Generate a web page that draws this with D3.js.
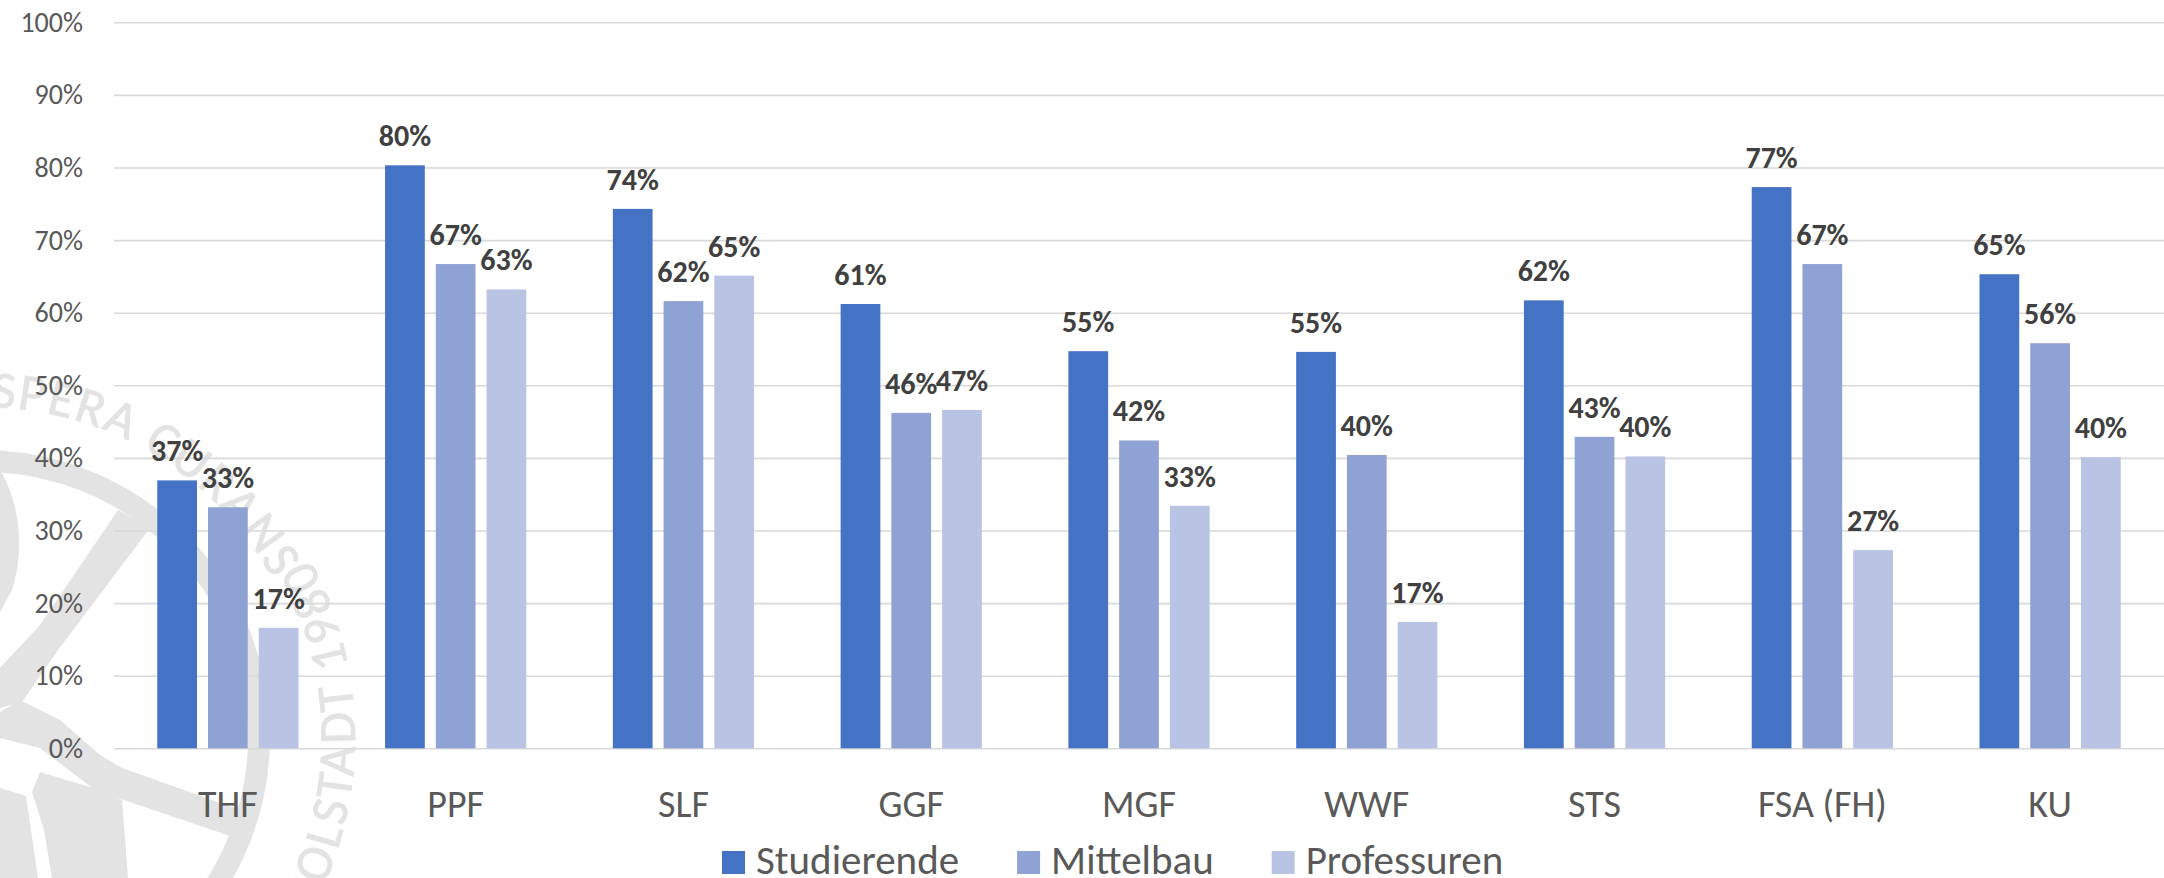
<!DOCTYPE html>
<html>
<head>
<meta charset="utf-8">
<script src="https://cdn.jsdelivr.net/npm/d3@7"></script>
<style>
  html, body { margin: 0; padding: 0; background: #fff; }
  #chart { width: 2164px; height: 878px; overflow: hidden; }
  text { font-family: Carlito, Calibri, Lato, sans-serif; }
</style>
</head>
<body>
<div id="chart"></div>
<script>
const categories = ["THF", "PPF", "SLF", "GGF", "MGF", "WWF", "STS", "FSA (FH)", "KU"];
const seriesNames = ["Studierende", "Mittelbau", "Professuren"];
const studierende = [36.9, 80.3, 74.3, 61.2, 54.7, 54.6, 61.7, 77.3, 65.3];
const mittelbau   = [33.2, 66.7, 61.6, 46.2, 42.4, 40.4, 42.9, 66.7, 55.8];
const professuren = [16.6, 63.2, 65.1, 46.6, 33.4, 17.4, 40.2, 27.3, 40.1];
const yTicks = [0, 10, 20, 30, 40, 50, 60, 70, 80, 90, 100];
const colors = ["#4472C4", "#8FA2D4", "#B9C3E3"];

const w = 2164, h = 878;
const plotLeft = 114, plotRight = 2164, plotTop = 22.3, plotBottom = 748.3;

const svg = d3.select("#chart")
    .append("svg")
        .attr("width", w)
        .attr("height", h)
        .attr("viewBox", [0, 0, w, h]);

// faint university seal in the background
const seal = svg.append("g").attr("class", "seal");
const cx = -17, cy = 737;
const grey = "#e3e3e3";
seal.append("circle")
    .attr("cx", cx).attr("cy", cy).attr("r", 276)
    .attr("fill", "none").attr("stroke", grey).attr("stroke-width", 22);
[
    "M118,510 L150,528 L58,650 L22,702 L0,708 L0,668 L40,625 Z",
    "M20,700 L60,720 L100,755 L122,768 L240,810 L236,838 L118,798 L95,790 L40,748 L0,738 L0,712 Z",
    "M40,772 L100,790 L122,800 L128,878 L52,878 L44,830 L32,792 Z",
    "M0,788 L26,796 L38,878 L0,878 Z",
    "M0,470 C18,500 26,545 12,590 L0,612 Z"
].forEach(d => seal.append("path").attr("fill", grey).attr("d", d));

function arcPath(r, a0, a1) {
    // a0 -> a1 in degrees clockwise from top; sweep follows the sign
    const p = a => [cx + r * Math.sin(a * Math.PI / 180), cy - r * Math.cos(a * Math.PI / 180)];
    const s = p(a0), e = p(a1);
    const large = Math.abs(a1 - a0) > 180 ? 1 : 0;
    const sweep = a1 > a0 ? 1 : 0;
    return "M" + s[0] + "," + s[1] + " A" + r + "," + r + " 0 " + large + " " + sweep + " " + e[0] + "," + e[1];
}
const defs = svg.append("defs");
defs.append("path").attr("id", "sealTop").attr("d", arcPath(330, -30, 170));
defs.append("path").attr("id", "sealBottom").attr("d", arcPath(372, 200, 0));

seal.append("text")
    .attr("font-size", 52)
    .attr("fill", grey)
    .attr("stroke", grey)
    .attr("stroke-width", 0.8)
  .append("textPath")
    .attr("href", "#sealTop")
    .attr("startOffset", (25.8 * Math.PI / 180 * 330))
    .attr("letter-spacing", 2)
    .text("ASPERA CURANS");

seal.append("text")
    .attr("font-size", 52)
    .attr("fill", grey)
    .attr("stroke", grey)
    .attr("stroke-width", 0.8)
    .attr("text-anchor", "end")
  .append("textPath")
    .attr("href", "#sealBottom")
    .attr("startOffset", ((200 - 61) * Math.PI / 180 * 372))
    .attr("letter-spacing", 3)
    .text("INGOLSTADT 1980");

const x0 = d3.scaleBand()
    .domain(categories)
    .range([plotLeft, plotRight]);
const x1 = d3.scaleBand()
    .domain(seriesNames)
    .range([0, x0.bandwidth()])
    .paddingInner(0.217)
    .paddingOuter(0.853);
const y = d3.scaleLinear()
    .domain([0, 100])
    .range([plotBottom, plotTop]);

const yAxis = d3.axisLeft(y)
    .tickValues(yTicks)
    .tickFormat(d => d + "%")
    .tickSize(-(plotRight - plotLeft))
    .tickPadding(31);

const gY = svg.append("g")
    .attr("transform", "translate(" + plotLeft + ",0)")
    .call(yAxis);
gY.select(".domain").remove();
gY.selectAll("line").attr("stroke", "#d9d9d9").attr("stroke-width", 1.6);
gY.selectAll("text")
    .attr("font-size", 28)
    .attr("fill", "#595959")
    .attr("font-family", "Carlito, Calibri, Lato, sans-serif");

const rows = categories.map((c, i) => ({
    cat: c,
    vals: [studierende[i], mittelbau[i], professuren[i]]
}));

const groups = svg.append("g").selectAll("g")
        .data(rows)
    .enter().append("g")
        .attr("transform", d => "translate(" + x0(d.cat) + ",0)");

groups.selectAll("rect")
        .data(d => d.vals.map((v, k) => ({ s: seriesNames[k], v: v, k: k })))
    .enter().append("rect")
        .attr("x", d => x1(d.s))
        .attr("y", d => y(d.v))
        .attr("width", x1.bandwidth())
        .attr("height", d => y(0) - y(d.v))
        .attr("fill", d => colors[d.k]);

groups.selectAll("text.lbl")
        .data(d => d.vals.map((v, k) => ({ s: seriesNames[k], v: v, k: k })))
    .enter().append("text")
        .attr("class", "lbl")
        .attr("x", d => x1(d.s) + x1.bandwidth() / 2)
        .attr("y", d => y(d.v) - 19)
        .attr("text-anchor", "middle")
        .attr("font-size", 30)
        .attr("font-weight", "bold")
        .attr("fill", "#404040")
        .text(d => Math.round(d.v) + "%");

// category labels
svg.append("g").selectAll("text")
        .data(categories)
    .enter().append("text")
        .attr("x", d => x0(d) + x0.bandwidth() / 2)
        .attr("y", 817)
        .attr("text-anchor", "middle")
        .attr("font-size", 38)
        .attr("fill", "#595959")
        .text(d => d);

// legend
const legend = svg.append("g");
let lx = 722;
seriesNames.forEach((s, k) => {
    legend.append("rect")
        .attr("x", lx).attr("y", 851)
        .attr("width", 23).attr("height", 23)
        .attr("fill", colors[k]);
    const t = legend.append("text")
        .attr("x", lx + 34)
        .attr("y", 874)
        .attr("font-size", 41)
        .attr("fill", "#595959")
        .text(s);
    lx += 34 + t.node().getComputedTextLength() + 58;
});
</script>
</body>
</html>
